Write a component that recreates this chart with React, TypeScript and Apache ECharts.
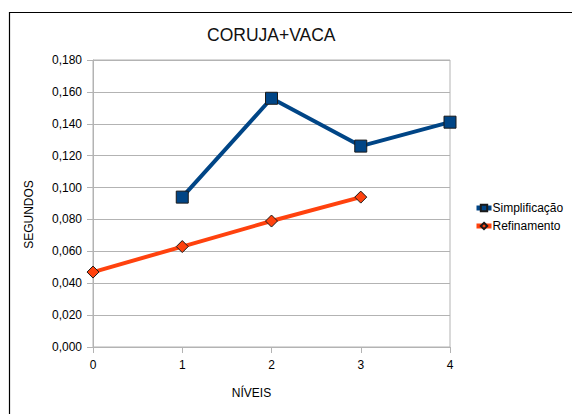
import React, { useEffect, useRef } from "react";
import * as echarts from "echarts";

const categories = ["0", "1", "2", "3", "4"];
const simplificacao = [null, 0.094, 0.156, 0.126, 0.141];
const refinamento = [0.047, 0.063, 0.079, 0.094, null];
const titleText = "CORUJA+VACA";
const xName = "NÍVEIS";
const yName = "SEGUNDOS";

const FONT = "'Liberation Sans', Arial, sans-serif";

export default function App() {
  const ref = useRef<HTMLDivElement>(null);
  useEffect(() => {
    document.body.style.margin = "0";
    const chart = echarts.init(ref.current!, null, { renderer: "svg" });
    chart.setOption({
      animation: false,
      backgroundColor: "#ffffff",
      textStyle: { fontFamily: FONT },
      title: {
        text: titleText,
        left: 202,
        top: 21,
        textStyle: { fontFamily: FONT, fontSize: 17.5, fontWeight: "normal", color: "#111" },
      },
      graphic: [
        {
          type: "rect",
          shape: { x: 9.5, y: 12.5, width: 600, height: 500 },
          style: { fill: "none", stroke: "#000", lineWidth: 1.2 },
          silent: true,
        },
      ],
      legend: {
        orient: "vertical",
        left: 469,
        top: 197,
        itemWidth: 15,
        itemHeight: 8,
        itemGap: 6,
        lineStyle: { width: 5 },
        textStyle: { fontFamily: FONT, fontSize: 12, color: "#000", padding: [0, 0, 0, -4] },
        data: ["Simplificação", "Refinamento"],
      },
      grid: {
        left: 93,
        top: 60,
        right: 122,
        bottom: 67,
        show: true,
        borderColor: "#b3b3b3",
        borderWidth: 1,
      },
      xAxis: {
        type: "category",
        data: categories,
        boundaryGap: false,
        name: xName,
        nameLocation: "middle",
        nameGap: 40,
        nameTextStyle: { fontFamily: FONT, fontSize: 12, color: "#000", padding: [0, 40, 0, 0] },
        axisLine: { lineStyle: { color: "#b3b3b3" } },
        axisTick: { show: true, length: 6, alignWithLabel: true, lineStyle: { color: "#b3b3b3" } },
        axisLabel: { fontFamily: FONT, fontSize: 12, color: "#000", margin: 12 },
        splitLine: { show: false },
      },
      yAxis: {
        type: "value",
        min: 0,
        max: 0.18,
        interval: 0.02,
        name: yName,
        nameLocation: "middle",
        nameGap: 58,
        nameTextStyle: { fontFamily: FONT, fontSize: 12, color: "#000", padding: [0, 22, 0, 0] },
        axisLine: { show: true, lineStyle: { color: "#b3b3b3" } },
        axisTick: { show: true, length: 6, lineStyle: { color: "#b3b3b3" } },
        axisLabel: {
          fontFamily: FONT,
          fontSize: 12,
          color: "#000",
          margin: 11,
          formatter: (v: number) => v.toFixed(3).replace(".", ","),
        },
        splitLine: { show: true, lineStyle: { color: "#b3b3b3" } },
      },
      series: [
        {
          name: "Simplificação",
          type: "line",
          data: simplificacao,
          symbol: "rect",
          symbolSize: 12,
          lineStyle: { color: "#004586", width: 4 },
          itemStyle: { color: "#004586", borderColor: "#1a1a1a", borderWidth: 1 },
        },
        {
          name: "Refinamento",
          type: "line",
          data: refinamento,
          symbol: "diamond",
          symbolSize: 12,
          lineStyle: { color: "#ff420e", width: 4 },
          itemStyle: { color: "#ff420e", borderColor: "#1a1a1a", borderWidth: 1 },
        },
      ],
    });
    return () => chart.dispose();
  }, []);
  return <div ref={ref} style={{ width: 572, height: 414 }} />;
}
